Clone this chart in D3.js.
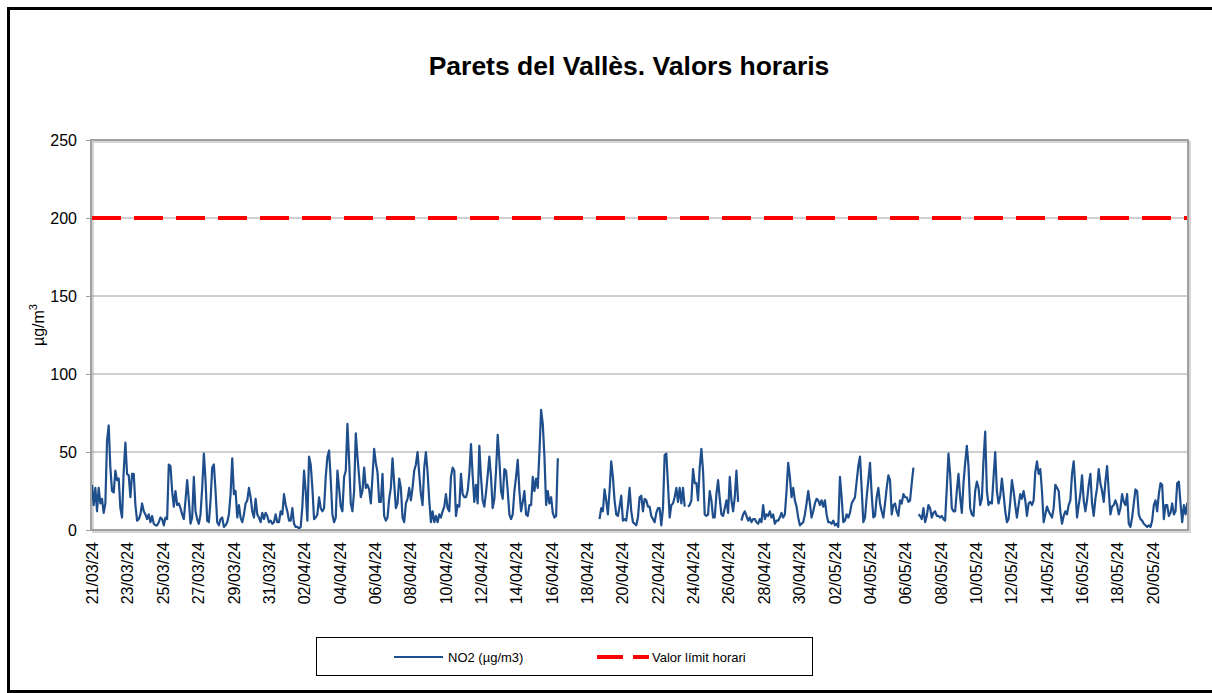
<!DOCTYPE html>
<html>
 <head>
  <title>Parets del Vallès. Valors horaris</title>
  <script src="https://cdnjs.cloudflare.com/ajax/libs/d3/7.8.3/d3.min.js"></script>
  <style>
   body { margin: 0; background: #fff; }
   text { font-family: "Liberation Sans", Arial, sans-serif; }
  </style>
 </head>

 <body>
  <script>
   const titleText = "Parets del Vallès. Valors horaris";
   const seriesName = "NO2 (µg/m3)";
   const limitName = "Valor límit horari";
   const limitValue = 200;
   const yTicks = [0, 50, 100, 150, 200, 250];
   const startDate = Date.UTC(2024, 2, 21);
   const endDate = Date.UTC(2024, 4, 22);
   const stepMinutes = 136;

   const no2Mar = [29,16,27,12,27,17,20,11,17,57,
    67,40,25,24,38,32,33,14,8,38,
    56,36,35,21,36,36,16,6,7,10,
    17,12,10,7,10,5,9,4,3,3,
    5,8,7,3,8,7,42,41,25,15,
    25,16,17,14,10,7,19,32,19,4,
    8,34,12,7,4,10,27,49,32,6,
    5,19,40,42,25,5,3,7,8,2,
    3,5,10,23,46,23,25,8,16,8,
    5,10,17,19,27,21,12,8,20,10,
    8,5,11,7,11,9,5,6,4,5,
    10,5,5,12,10,23,16,12,6,6,
    14,4,2,2,1,2,15,38,25,6,
    47,42,27,7,8,10,21,14,12,14,
    34,47,51,32,10,5,8,38,27,15,
    12,34,38,68,45,17,12,25,62,47,
    34,21,25,40];
   const no2AprA = [27,29,26,17,34,52,43,37,18,18,
    36,9,6,8,20,27,46,30,14,17,
    33,27,8,5,17,20,27,19,27,38,
    42,50,36,23,16,40,50,37,19,5,
    12,5,9,5,10,8,12,15,23,14,
    12,34,40,38,9,16,15,36,23,21,
    21,25,36,55,35,18,29,17,54,34,
    19,15,24,35,47,34,14,20,38,61,
    45,25,20,39,38,25,10,7,10,25,
    34,45,25,12,18,25,10,9,16,16,
    34,25,33,27,50,77,68,47,16,25,
    17,21,11,8,9,46,
    null,null,null,null,null,null,null,null,null,null,null,null,
    null,null,null,null,null,null,null,null,null,null,null,null];
   const no2AprB = [7,14,12,26,19,10,25,44,34,19,
    10,9,15,22,6,7,6,15,27,12,
    5,4,
    3,8,21,22,12,20,19,15,15,9,
    7,5,11,14,14,3,14,48,49,29,
    8,16,17,21,27,18,27,17,27,15,
    null,15,16,19,39,30,30,19,40,52,
    38,10,9,10,25,19,8,8,23,32,
    20,10,9,14,19,11,34,19,12,21,
    38,18,null,6,10,12,9,6,8,5,
    7,7,5,4,7,5,16,7,10,9,
    12,8,10,4,6,6,8,11,8,10];
   const no2May = [25,43,34,21,27,19,15,8,3,4,
    5,10,17,25,17,8,12,17,20,19,
    16,19,15,19,10,5,5,4,6,3,
    4,2,34,21,5,6,10,8,11,17,
    19,21,31,41,47,27,5,8,21,32,
    43,23,8,9,21,27,17,12,8,17,
    27,35,32,10,16,17,12,9,19,17,
    23,21,
    21,18,19,30,40,null,null,10,9,7,
    14,5,9,16,14,8,11,12,9,9,
    8,9,7,6,27,49,36,14,12,12,
    25,36,21,11,30,43,54,41,14,10,
    9,25,31,27,16,20,45,63,25,16,
    18,17,34,50,25,17,22,33,23,12,
    5,7,18,32,25,16,8,16,23,20,
    25,19,9,17,18,16,19,37,44,36,
    39,25,5,10,15,12,10,8,14,29,
    27,25,12,4,9,12,10,16,19,36,
    44,27,8,16,23,35,19,12,19,29,
    36,17,9,20,27,39,30,25,18,31,
    41,25,10,15,16,19,16,10,14,23,
    18,16,23,4,2,8,17,26,25,10,
    7,6,4,3,2,3,2,6,16,19,
    12,23,30,29,7,16,16,9,11,17,
    10,12,30,31,17,5,16,10,17,9,
    16];

   const no2 = no2Mar.concat(no2AprA, no2AprB, no2May);
   const dataset = no2.map((v, i) => ({date: new Date(startDate + i * stepMinutes * 60000), value: v}));

   const w = 1212;
   const h = 693;
   const padL = 91, padR = 1188, padT = 140, padB = 530;

   const svg = d3.select("body")
                 .append("svg")
                 .attr("width", w)
                 .attr("height", h);

   svg.append("rect")
      .attr("x", 8.5)
      .attr("y", 8.5)
      .attr("width", 1230)
      .attr("height", 683)
      .attr("fill", "none")
      .attr("stroke", "#000")
      .attr("stroke-width", 3);

   svg.append("text")
      .attr("x", 629)
      .attr("y", 75)
      .attr("text-anchor", "middle")
      .style("font-size", "26.5px")
      .style("font-weight", "bold")
      .text(titleText);

   const xScale = d3.scaleUtc()
                    .domain([new Date(startDate), new Date(endDate)])
                    .range([padL + 1, padR]);
   const yScale = d3.scaleLinear()
                    .domain([0, 250])
                    .range([padB, padT]);

   svg.append("rect")
      .attr("x", padL + 2)
      .attr("y", padT + 2)
      .attr("width", padR - padL)
      .attr("height", padB - padT)
      .attr("fill", "none")
      .attr("stroke", "#d4d4d4")
      .attr("stroke-width", 2);

   svg.append("g")
      .selectAll("line")
      .data(yTicks.slice(1, -1))
      .enter()
      .append("line")
      .attr("x1", padL)
      .attr("x2", padR)
      .attr("y1", d => yScale(d))
      .attr("y2", d => yScale(d))
      .attr("stroke", "#a0a0a0")
      .attr("stroke-width", 1);

   const yAxis = d3.axisLeft(yScale)
                   .tickValues(yTicks)
                   .tickSize(5)
                   .tickPadding(9)
                   .tickFormat(d => d);
   const gy = svg.append("g")
                 .attr("transform", "translate(" + padL + ",0)")
                 .call(yAxis);
   gy.select(".domain").remove();
   gy.selectAll("line").attr("stroke", "#a0a0a0");
   gy.selectAll("text")
     .style("font-size", "16px")
     .attr("fill", "#000");

   const xTicks = d3.utcDay.range(new Date(startDate), new Date(endDate), 2);
   const xAxis = d3.axisBottom(xScale)
                   .tickValues(xTicks)
                   .tickSize(0)
                   .tickFormat(d3.utcFormat("%d/%m/%y"));
   const gx = svg.append("g")
                 .attr("transform", "translate(0," + padB + ")")
                 .call(xAxis);
   gx.select(".domain").remove();
   gx.selectAll("text")
     .style("font-size", "16px")
     .attr("fill", "#000")
     .attr("text-anchor", "end")
     .attr("transform", "rotate(-90)")
     .attr("x", -12)
     .attr("y", 0)
     .attr("dy", "0.35em");

   svg.append("defs")
      .append("clipPath")
      .attr("id", "plot-clip")
      .append("rect")
      .attr("x", padL)
      .attr("y", padT)
      .attr("width", padR - padL)
      .attr("height", padB - padT);

   svg.append("line")
      .attr("clip-path", "url(#plot-clip)")
      .attr("x1", padL + 1)
      .attr("x2", padR)
      .attr("y1", yScale(limitValue))
      .attr("y2", yScale(limitValue))
      .attr("stroke", "#ff0000")
      .attr("stroke-width", 4)
      .attr("stroke-dasharray", "29,13");

   const line = d3.line()
                  .defined(d => d.value !== null)
                  .x(d => xScale(d.date))
                  .y(d => yScale(d.value));
   svg.append("path")
      .datum(dataset)
      .attr("clip-path", "url(#plot-clip)")
      .attr("d", line)
      .attr("fill", "none")
      .attr("stroke", "#1f4e8c")
      .attr("stroke-width", 2.2)
      .attr("stroke-linejoin", "round");

   svg.append("rect")
      .attr("x", padL)
      .attr("y", padT)
      .attr("width", padR - padL)
      .attr("height", padB - padT)
      .attr("fill", "none")
      .attr("stroke", "#a0a0a0")
      .attr("stroke-width", 2);

   svg.append("text")
      .attr("transform", "translate(44,325) rotate(-90)")
      .attr("text-anchor", "middle")
      .style("font-size", "16px")
      .text("µg/m")
      .append("tspan")
      .attr("dy", -7)
      .style("font-size", "11px")
      .text("3");

   const legend = svg.append("g");
   legend.append("rect")
         .attr("x", 316.5)
         .attr("y", 637.5)
         .attr("width", 496)
         .attr("height", 38)
         .attr("fill", "#fff")
         .attr("stroke", "#000")
         .attr("stroke-width", 1);
   legend.append("line")
         .attr("x1", 394)
         .attr("x2", 443)
         .attr("y1", 657)
         .attr("y2", 657)
         .attr("stroke", "#1f4e8c")
         .attr("stroke-width", 2.2);
   legend.append("text")
         .attr("x", 448)
         .attr("y", 662)
         .style("font-size", "13px")
         .text(seriesName);
   legend.append("line")
         .attr("x1", 597)
         .attr("x2", 649)
         .attr("y1", 657)
         .attr("y2", 657)
         .attr("stroke", "#ff0000")
         .attr("stroke-width", 4)
         .attr("stroke-dasharray", "26,10");
   legend.append("text")
         .attr("x", 652)
         .attr("y", 662)
         .style("font-size", "13px")
         .text(limitName);
  </script>
 </body>
</html>
